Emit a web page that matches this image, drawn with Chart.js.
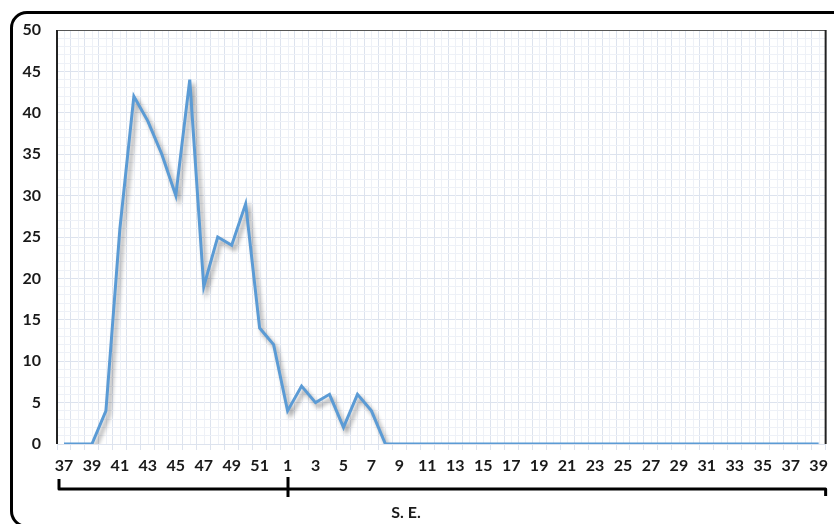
<!DOCTYPE html>
<html lang="en">
  <head>
    <meta charset="UTF-8" />
    <title>S. E. chart</title>
    <script src="https://cdn.jsdelivr.net/npm/chart.js@4.4.1/dist/chart.umd.min.js"></script>
    <style>
      body { margin: 0; background: #fff; overflow: hidden; }
      #wrap { position: relative; width: 834px; height: 524px; overflow: hidden; }
      #frame {
        position: absolute; left: 10px; top: 11px; width: 900px; height: 511px;
        border: 3px solid #000; border-radius: 17px; pointer-events: none;
      }
    </style>
  </head>
  <body>
    <div id="wrap">
      <canvas id="chart" width="834" height="524"></canvas>
      <div id="frame"></div>
    </div>
    <script>
      // epidemiological weeks: 37-52 of the first year, then 1-39
      const weeks = [
        37, 38, 39, 40, 41, 42, 43, 44, 45, 46, 47, 48, 49, 50, 51, 52,
        1, 2, 3, 4, 5, 6, 7, 8, 9, 10, 11, 12, 13, 14, 15, 16, 17, 18, 19, 20,
        21, 22, 23, 24, 25, 26, 27, 28, 29, 30, 31, 32, 33, 34, 35, 36, 37, 38, 39
      ]
      const cases = [
        0, 0, 0, 4, 26, 42, 39, 35, 30, 44, 19, 25, 24, 29, 14, 12,
        4, 7, 5, 6, 2, 6, 4, 0, 0, 0, 0, 0, 0, 0, 0, 0, 0, 0, 0, 0,
        0, 0, 0, 0, 0, 0, 0, 0, 0, 0, 0, 0, 0, 0, 0, 0, 0, 0, 0
      ]
      const axisLabel = 'S. E.'
      const yearBreak = 16 // index of week 1

      const font = { family: 'Lato', size: 16, weight: 'bold' }

      const paperPlugin = {
        id: 'paper',
        beforeDatasetsDraw(chart) {
          const { ctx, chartArea, scales } = chart
          ctx.save()
          ctx.strokeStyle = '#eef1f7'
          ctx.lineWidth = 1
          for (let i = 0; i < weeks.length; i++) {
            const x = Math.round(scales.x.getPixelForValue(i)) + 0.5
            ctx.beginPath()
            ctx.moveTo(x, chartArea.top)
            ctx.lineTo(x, chartArea.bottom)
            ctx.stroke()
          }
          ctx.restore()
          // soft drop shadow under the line
          ctx.save()
          ctx.shadowColor = 'rgba(0,0,0,0.38)'
          ctx.shadowBlur = 4
          ctx.shadowOffsetX = 3
          ctx.shadowOffsetY = 4
        },
        afterDatasetsDraw(chart) {
          chart.ctx.restore()
        },
        afterDraw(chart) {
          const { ctx, chartArea, scales } = chart
          const { left, right, top, bottom } = chartArea
          ctx.save()
          // plot border (left, top, right)
          ctx.strokeStyle = '#555'
          ctx.lineWidth = 1
          ctx.beginPath()
          ctx.moveTo(left, top + 0.5)
          ctx.lineTo(right, top + 0.5)
          ctx.stroke()
          ctx.strokeStyle = '#222'
          ctx.lineWidth = 2
          ctx.beginPath()
          ctx.moveTo(left, top)
          ctx.lineTo(left, bottom)
          ctx.moveTo(right, top)
          ctx.lineTo(right, bottom)
          ctx.stroke()

          // bracket under the week labels
          const by = 489
          const mid = Math.round(scales.x.getPixelForValue(yearBreak))
          ctx.strokeStyle = '#000'
          ctx.lineWidth = 3
          ctx.lineJoin = 'round'
          ctx.beginPath()
          ctx.moveTo(left + 2, by - 10)
          ctx.lineTo(left + 2, by)
          ctx.lineTo(right, by)
          ctx.lineTo(right, by + 7)
          ctx.stroke()
          ctx.beginPath()
          ctx.moveTo(mid, by - 12)
          ctx.lineTo(mid, by + 8)
          ctx.stroke()

          ctx.fillStyle = '#1a1a1a'
          ctx.font = 'bold 16px Lato'
          ctx.textAlign = 'center'
          ctx.textBaseline = 'middle'
          ctx.fillText(axisLabel, 406, 513)
          ctx.restore()
        }
      }

      const config = {
        type: 'line',
        data: {
          labels: weeks,
          datasets: [
            {
              data: cases,
              borderColor: '#5b9bd5',
              borderWidth: 3,
              tension: 0,
              pointRadius: 0,
              fill: false,
            },
          ],
        },
        options: {
          responsive: false,
          animation: false,
          layout: { padding: { left: 0, right: 8, top: 30, bottom: 50 } },
          plugins: { legend: { display: false }, tooltip: { enabled: false } },
          scales: {
            x: {
              offset: true,
              afterFit: (s) => { s.height = 30 },
              border: { display: false },
              grid: {
                offset: true,
                color: '#dde3ee',
                tickLength: 6,
                tickColor: '#dde3ee',
              },
              ticks: {
                autoSkip: false,
                maxRotation: 0,
                padding: 6,
                color: '#1a1a1a',
                font: font,
                callback: (v, i) => (i % 2 === 0 ? weeks[i] : ''),
              },
            },
            y: {
              min: 0,
              max: 50,
              afterFit: (s) => { s.width = 57 },
              border: { display: false },
              grid: {
                drawTicks: false,
                color: (c) => (c.tick.value % 5 === 0 ? '#dde3ee' : '#eef1f7'),
              },
              ticks: {
                stepSize: 1,
                autoSkip: false,
                padding: 16,
                color: '#1a1a1a',
                font: font,
                callback: (v) => (v % 5 === 0 ? v : ''),
              },
            },
          },
        },
        plugins: [paperPlugin],
      }

      const chart = new Chart(document.getElementById('chart'), config)
    </script>
  </body>
</html>
